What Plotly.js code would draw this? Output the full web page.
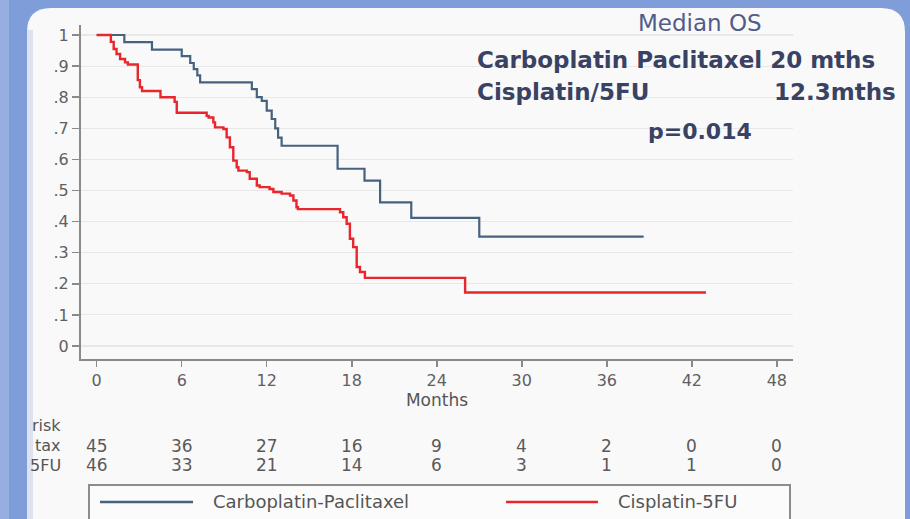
<!DOCTYPE html>
<html>
<head>
<meta charset="utf-8">
<script src="https://cdn.plot.ly/plotly-3.0.1.min.js"></script>
<style>html,body{margin:0;padding:0;background:#7f9dd9;}#chart{width:910px;height:519px;}</style>
</head>
<body>
<div id="chart"></div>
<script>
// ---- data ----
const seriesNames = ["Carboplatin-Paclitaxel", "Cisplatin-5FU"];
const cpMonths = [0, 1.95, 3.9, 6.0, 6.6, 6.85, 7.1, 7.3, 10.95, 11.3, 11.65, 12.0, 12.35, 12.6, 12.8, 13.05, 17.0, 18.9, 20.0, 22.2, 27.0, 38.6];
const cpSurv   = [1, 0.977, 0.953, 0.932, 0.91, 0.89, 0.87, 0.848, 0.826, 0.80, 0.788, 0.757, 0.73, 0.70, 0.67, 0.644, 0.57, 0.532, 0.462, 0.412, 0.352, 0.352];
const cfMonths = [0, 1.0, 1.2, 1.4, 1.65, 2.0, 2.2, 2.9, 3.05, 3.2, 4.5, 5.5, 5.65, 7.76, 7.9, 8.23, 8.35, 8.94, 9.17, 9.4, 9.64, 9.88, 10.0, 10.6, 10.8, 11.3, 11.5, 12.2, 12.47, 13.05, 13.64, 13.88, 14.1, 14.2, 17.17, 17.4, 17.64, 17.87, 18.1, 18.35, 18.58, 18.93, 26.0, 43.0];
const cfSurv   = [1, 0.978, 0.955, 0.939, 0.923, 0.912, 0.905, 0.855, 0.832, 0.82, 0.80, 0.785, 0.75, 0.74, 0.735, 0.719, 0.703, 0.698, 0.671, 0.639, 0.596, 0.575, 0.564, 0.559, 0.538, 0.516, 0.511, 0.505, 0.495, 0.49, 0.484, 0.468, 0.446, 0.44, 0.43, 0.414, 0.393, 0.345, 0.318, 0.254, 0.238, 0.219, 0.172, 0.172];
const xTicks = [0, 6, 12, 18, 24, 30, 36, 42, 48];
const yTicks = [0, 0.1, 0.2, 0.3, 0.4, 0.5, 0.6, 0.7, 0.8, 0.9, 1];
const yTickText = ["0", ".1", ".2", ".3", ".4", ".5", ".6", ".7", ".8", ".9", "1"];
const riskLabels = ["risk", "tax", "5FU"];
const riskCP = [45, 36, 27, 16, 9, 4, 2, 0, 0];
const riskCF = [46, 33, 21, 14, 6, 3, 1, 1, 0];
const headerLines = ["Median OS", "Carboplatin Paclitaxel 20 mths", "Cisplatin/5FU", "12.3mths", "p=0.014"];

// ---- styling / geometry ----
const L = 81, R = 793, T = 25, B = 359;
const px = x => (x - L) / (R - L);
const py = y => (B - y) / (B - T);
const FONT = "DejaVu Sans";
const BLUE = "#46627f", RED = "#e8262c";

const traces = [
  {x: cpMonths, y: cpSurv, name: seriesNames[0], type: "scatter", mode: "lines",
   line: {shape: "hv", color: BLUE, width: 2.2}},
  {x: cfMonths, y: cfSurv, name: seriesNames[1], type: "scatter", mode: "lines",
   line: {shape: "hv", color: RED, width: 2.4}}
];

const panelPath = "M " + px(27) + "," + py(540) +
  " L " + px(27) + "," + py(32) +
  " Q " + px(27) + "," + py(8) + " " + px(51) + "," + py(8) +
  " L " + px(881) + "," + py(8) +
  " Q " + px(905) + "," + py(8) + " " + px(905) + "," + py(32) +
  " L " + px(905) + "," + py(540) + " Z";

const shapes = [
  {type: "rect", xref: "paper", yref: "paper", layer: "below",
   x0: px(0), x1: px(9), y0: py(540), y1: py(-5), fillcolor: "rgba(255,255,255,0.18)", line: {width: 0}},
  {type: "path", xref: "paper", yref: "paper", layer: "below", path: panelPath,
   fillcolor: "#f9f9fa", line: {width: 0}},
  {type: "rect", xref: "paper", yref: "paper", layer: "below",
   x0: px(27), x1: px(33), y0: py(540), y1: py(30), fillcolor: "rgba(200,210,232,0.6)", line: {width: 0}},
  {type: "rect", xref: "paper", yref: "paper", layer: "below",
   x0: px(89), x1: px(790), y0: py(530), y1: py(485), fillcolor: "#fbfbfb",
   line: {color: "#8c8c8c", width: 2}},
  {type: "line", xref: "paper", yref: "paper", x0: px(100), x1: px(193), y0: py(502), y1: py(502),
   line: {color: BLUE, width: 2.5}},
  {type: "line", xref: "paper", yref: "paper", x0: px(506), x1: px(598), y0: py(502), y1: py(502),
   line: {color: RED, width: 2.5}}
];

const ann = [];
function txt(text, x, y, xanchor, size, color, bold) {
  ann.push({xref: "paper", yref: "paper", x: px(x), y: py(y), xanchor: xanchor, yanchor: "middle",
    text: bold ? "<b>" + text + "</b>" : text, showarrow: false,
    font: {family: FONT, size: size, color: color}});
}
txt(headerLines[0], 700, 23, "center", 23, "#505d8a", false);
txt(headerLines[1], 475, 60, "left", 23, "#3a4264", true);
txt(headerLines[2], 475, 92, "left", 23, "#3a4264", true);
txt(headerLines[3], 898, 92, "right", 23, "#3a4264", true);
txt(headerLines[4], 700, 131, "center", 22, "#3a4264", true);
// legend texts
txt(seriesNames[0], 211, 502, "left", 18, "#555555", false);
txt(seriesNames[1], 616, 502, "left", 18, "#555555", false);
// risk table
txt(riskLabels[0], 63, 425, "right", 16, "#555555", false);
txt(riskLabels[1], 63, 446, "right", 16, "#555555", false);
txt(riskLabels[2], 63, 465, "right", 16, "#555555", false);
xTicks.forEach((t, i) => {
  ann.push({xref: "x", yref: "paper", x: t, y: py(446), xanchor: "center", yanchor: "middle",
    text: String(riskCP[i]), showarrow: false, font: {family: FONT, size: 17, color: "#5a5a5a"}});
  ann.push({xref: "x", yref: "paper", x: t, y: py(465), xanchor: "center", yanchor: "middle",
    text: String(riskCF[i]), showarrow: false, font: {family: FONT, size: 17, color: "#5a5a5a"}});
});

const layout = {
  width: 910, height: 519,
  margin: {l: L, r: 910 - R, t: T, b: 519 - B, pad: 0},
  paper_bgcolor: "#7f9dd9",
  plot_bgcolor: "rgba(0,0,0,0)",
  showlegend: false,
  font: {family: FONT, color: "#5a5a5a"},
  xaxis: {
    range: [-1.108, 49.14], tickvals: xTicks, ticktext: xTicks.map(String),
    ticks: "outside", ticklen: 6, tickwidth: 1.5, tickcolor: "#8a8a8a",
    showline: true, linecolor: "#8a8a8a", linewidth: 2, showgrid: false, zeroline: false,
    tickfont: {family: FONT, size: 16, color: "#606060"},
    title: {text: "Months", font: {family: FONT, size: 17, color: "#555555"}, standoff: 3}
  },
  yaxis: {
    range: [-0.0418, 1.0322], tickvals: yTicks, ticktext: yTickText,
    ticks: "outside", ticklen: 7, tickwidth: 1.5, tickcolor: "#8a8a8a",
    showline: true, linecolor: "#8a8a8a", linewidth: 2,
    showgrid: true, gridcolor: "#e8e8e8", gridwidth: 1.2, zeroline: false,
    tickfont: {family: FONT, size: 16, color: "#606060"}
  },
  shapes: shapes,
  annotations: ann
};

Plotly.newPlot("chart", traces, layout, {displayModeBar: false, staticPlot: true});
</script>
</body>
</html>
